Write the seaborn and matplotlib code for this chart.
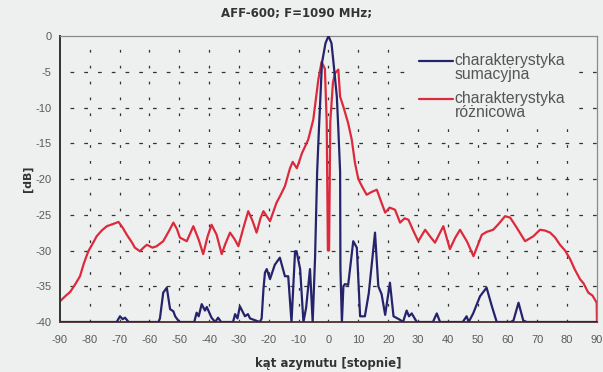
import numpy as np
import pandas as pd
import matplotlib
matplotlib.use("Agg")
import matplotlib.pyplot as plt
import seaborn as sns

# ---- data ----
title = "AFF-600; F=1090 MHz;"
xlabel = "kąt azymutu [stopnie]"
ylabel = "[dB]"
label_sum = "charakterystyka\nsumacyjna"
label_diff = "charakterystyka\nróżnicowa"
xticks = [-90, -80, -70, -60, -50, -40, -30, -20, -10, 0, 10, 20, 30, 40, 50, 60, 70, 80, 90]
yticks = [0, -5, -10, -15, -20, -25, -30, -35, -40]

diff_deg = [-90, -88, -86.6, -85, -83.3, -82, -80.5, -79, -77.7, -76,
            -74.3, -71.6, -70.4, -69, -67.6, -66, -64.9, -63.2, -62, -60.9,
            -59, -57.6, -55.4, -53.5, -52, -50.8, -49.8, -47.5, -45.3, -43.5,
            -42, -40.5, -39.2, -37.5, -35.8, -34.5, -33, -31.5, -30.2, -28.5,
            -26.9, -25.5, -24.1, -22.8, -21.8, -19.6, -17.4, -16, -14.6, -12.9,
            -12.0, -10.6, -8.9, -6.8, -5.1, -3.4, -2.3, -1.2, -0.6, -0.2,
            0.2, 0.6, 1.5, 2.2, 3.3, 3.9, 5.0, 6.6, 7.8, 8.9,
            10, 11.2, 12.8, 14.5, 16.2, 17.5, 19, 20.5, 22.3, 24,
            25.5, 26.8, 28.5, 30.1, 32.4, 34, 35.7, 38.5, 40.7, 42.5,
            44.1, 46.5, 48.6, 51.4, 53, 55.2, 57, 59.2, 60.9, 63.1,
            65.9, 68.7, 70.9, 72.5, 74.3, 76, 77.6, 79.3, 81, 82.5,
            84.3, 85.5, 87.1, 88.5, 89.9, 90]
diff_db = [-37.1, -36.3, -35.8, -34.8, -33.6, -31.8, -30.1, -29.0, -28.0, -27.2,
           -26.6, -26.2, -26.0, -26.8, -27.8, -28.8, -29.6, -30.1, -29.6, -29.2,
           -29.6, -29.4, -28.7, -27.3, -26.1, -27.0, -28.2, -28.7, -26.6, -28.5,
           -30.5, -28.0, -26.4, -27.8, -30.5, -29.0, -27.5, -28.4, -29.4, -26.8,
           -24.5, -25.8, -27.5, -25.5, -24.5, -25.9, -23.3, -22.2, -21.0, -18.5,
           -17.6, -18.5, -16.4, -14.5, -11.7, -6.1, -3.6, -4.6, -12.0, -30.0,
           -30.0, -12.0, -6.5, -5.2, -4.7, -8.5, -9.9, -12.2, -14.5, -17.8,
           -20.0, -21.0, -22.2, -21.8, -21.5, -23.0, -24.7, -24.0, -24.3, -26.1,
           -25.5, -25.7, -27.3, -28.7, -27.1, -28.0, -28.9, -26.6, -29.8, -28.2,
           -27.1, -28.8, -30.8, -27.8, -27.4, -27.1, -26.3, -25.2, -25.4, -26.8,
           -28.7, -28.0, -27.1, -27.2, -27.5, -28.2, -29.2, -30.0, -31.2, -32.6,
           -34.0, -34.6, -35.9, -36.3, -37.3, -40.0]

sum_deg = [-90, -71, -69.9, -69, -68.2, -67, -57, -56.5, -55.4, -54.2,
           -53.1, -52, -51.4, -50, -45, -44.2, -43.5, -42.5, -41.4, -40.8,
           -39.2, -38, -37, -36, -32, -31.3, -30.5, -29.7, -28, -27,
           -26.3, -23, -22.4, -21.8, -21.3, -20.7, -19.6, -18, -16.3, -14.6,
           -13.5, -12.4, -11.2, -10.7, -9.5, -8.4, -7.5, -6.2, -5.3, -4.5,
           -3.8, -3.2, -2.7, -2.2, -1.0, 0.0, 1.0, 1.7, 2.8, 3.3,
           3.9, 4.0, 4.5, 5.0, 5.5, 6.6, 8.3, 9.5, 10.6, 12.2,
           13.5, 15.6, 16.7, 17.8, 19, 20.6, 21.8, 24, 25, 26.2,
           27, 27.9, 29.6, 35, 36.3, 37.4, 45, 46.3, 47, 48.5,
           50.8, 53, 54.7, 56.4, 61, 62, 63.7, 65.3, 66.5, 90]
sum_db = [-40, -40, -39.2, -39.6, -39.4, -40, -40, -39.5, -35.9, -35.2,
          -38.2, -38.5, -39.2, -40, -40, -38.7, -39.2, -37.5, -38.4, -37.9,
          -39.4, -40, -39.4, -40, -40, -38.9, -39.5, -37.8, -39.2, -38.9,
          -39.5, -40, -39.5, -35.4, -33.1, -32.6, -34.0, -32.0, -31.0, -33.6,
          -33.6, -40, -30.1, -30.1, -32.6, -40, -38.0, -32.6, -40, -31.0,
          -19.0, -13.0, -8.5, -3.8, -1.0, 0.0, -1.0, -3.8, -8.5, -13.0,
          -19.0, -32.6, -40, -35.0, -34.7, -34.8, -28.7, -29.6, -39.2, -39.2,
          -36.0, -27.5, -35.0, -36.1, -39.0, -34.5, -39.2, -39.7, -40, -38.4,
          -39.2, -38.8, -40, -40, -38.8, -40, -40, -39.2, -40, -38.8,
          -36.4, -35.2, -37.7, -40, -40, -39.8, -37.3, -39.8, -40, -40]

df_sum = pd.DataFrame({"deg": sum_deg, "db": sum_db})
df_diff = pd.DataFrame({"deg": diff_deg, "db": diff_db})

# ---- style ----
sns.set_style("white")
bg = "#eef0ef"
plt.rcParams["font.family"] = ["Liberation Sans", "DejaVu Sans"]

fig = plt.figure(figsize=(6.03, 3.72), dpi=100, facecolor=bg)
ax = fig.add_axes([0.0995, 0.1344, 0.8905, 0.7688])
ax.set_facecolor(bg)

blue = "#25236b"
red = "#dc2a3c"

sns.lineplot(data=df_diff, x="deg", y="db", ax=ax, color=red, lw=1.6,
             sort=False, estimator=None, label=label_diff, zorder=2)
sns.lineplot(data=df_sum, x="deg", y="db", ax=ax, color=blue, lw=1.6,
             sort=False, estimator=None, label=label_sum, zorder=3)

ax.set_xlim(-90, 90)
ax.set_ylim(-40, 0)
ax.set_xticks(xticks)
ax.set_yticks(yticks)
ax.set_xticklabels([str(t) for t in xticks], fontsize=8, color="#5a5a5a")
ax.set_yticklabels([str(t) for t in yticks], fontsize=8, color="#5a5a5a")
ax.tick_params(axis="both", length=3, width=0.8, color="#444444")
ax.tick_params(axis="y", pad=3)
ax.tick_params(axis="x", pad=6)

# dashed grid
for t in xticks[1:-1]:
    ax.axvline(t, color="#333333", lw=0.9, ls=(0, (2.2, 10.5)), zorder=1)
for t in yticks[1:-1]:
    ax.axhline(t, color="#333333", lw=0.9, ls=(3, (3, 8)), zorder=1)

for s in ["top", "right"]:
    ax.spines[s].set_color("#8a8a8a")
    ax.spines[s].set_linewidth(0.9)
ax.spines["left"].set_color("#333333")
ax.spines["left"].set_linewidth(1.4)
ax.spines["bottom"].set_color("#5a3c3c")
ax.spines["bottom"].set_linewidth(1.4)

ax.set_xlabel(xlabel, fontsize=8.5, fontweight="bold", color="#333333",
              labelpad=9, family="DejaVu Sans")
ax.set_ylabel(ylabel, fontsize=8, fontweight="bold", color="#333333",
              labelpad=2, family="DejaVu Sans")
fig.text(0.492, 0.965, title, ha="center", va="center", fontsize=8.5,
         fontweight="bold", color="#333333", family="DejaVu Sans")

h, l = ax.get_legend_handles_labels()
leg = ax.legend(h[::-1], l[::-1], loc="upper left", bbox_to_anchor=(0.656, 0.963),
                frameon=True, fontsize=11.3, handlelength=2.2, handletextpad=0.1,
                labelspacing=0.6, borderaxespad=0, borderpad=0.4,
                facecolor=bg, edgecolor=bg, framealpha=1.0, fancybox=False)
leg.set_zorder(5)
for t in leg.get_texts():
    t.set_color("#555555")
    t.set_linespacing(0.9)
for hl in leg.legend_handles:
    hl.set_ydata(np.asarray(hl.get_ydata()) + 5.2)

fig.savefig("out.png", dpi=100, facecolor=bg)
